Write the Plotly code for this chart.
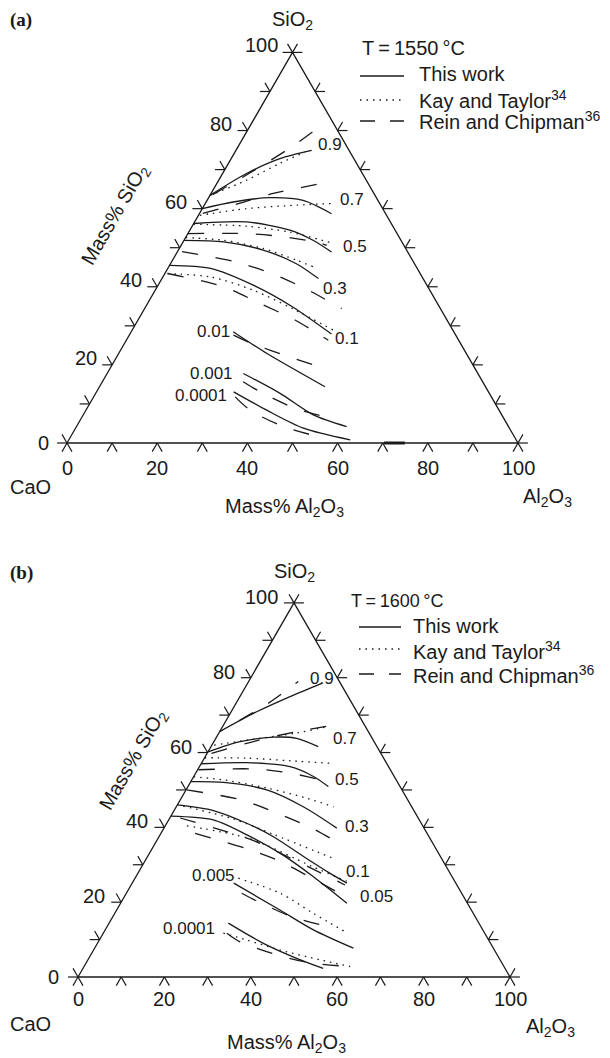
import math
import plotly.graph_objects as go

H = math.sqrt(3) / 2

# ---------------- ternary axis ticks (mass %) ----------------
tick_values = [0, 10, 20, 30, 40, 50, 60, 70, 80, 90, 100]
label_values = [0, 20, 40, 60, 80, 100]

# ---------------- Panel (a): T = 1550 C ----------------
# iso-activity curves; each point is (mass% Al2O3, mass% SiO2)
a_labels = ["0.9", "0.7", "0.5", "0.3", "0.1", "0.01", "0.001", "0.0001"]

a_tw_09 = [(0.0, 63.4), (5.3, 69.0), (10.8, 72.8), (16.8, 74.9)]
a_tw_07 = [(0.0, 60.0), (6.0, 61.7), (13.6, 62.8), (21.3, 62.1), (29.3, 58.7)]
a_tw_05 = [(0.0, 56.2), (11.5, 56.6), (22.2, 54.5), (28.6, 51.9), (34.2, 48.9)]
a_tw_03 = [(0.0, 51.9), (9.0, 51.5), (18.8, 49.4), (27.9, 45.9), (34.7, 42.1)]
a_tw_01 = [(0.0, 45.5), (9.5, 44.7), (21.1, 40.4), (32.5, 34.9), (44.7, 27.9)]
a_tw_001 = [(22.6, 28.5), (32.9, 22.9), (50.0, 14.4)]
a_tw_0001 = [(30.2, 17.8), (40.9, 12.7), (51.0, 7.2), (59.9, 4.2)]
a_tw_00001 = [(30.4, 13.1), (40.1, 8.4), (50.5, 3.8), (62.4, 0.8)]
a_tw_base = [(70.3, 0.0), (74.9, 0.0)]

a_kt_09 = [(0.0, 63.4), (6.2, 67.3), (11.4, 71.6), (15.5, 74.5)]
a_kt_07 = [(0.3, 58.3), (9.8, 60.0), (20.5, 60.9), (28.0, 61.3)]
a_kt_05 = [(0.0, 56.0), (12.1, 55.5), (22.4, 54.0), (33.5, 51.1)]
a_kt_03 = [(0.0, 52.6), (8.7, 51.9), (18.6, 49.8), (27.5, 46.8), (32.1, 45.1)]
a_kt_01 = [(0.6, 43.4), (10.6, 42.5), (21.8, 39.1), (32.8, 34.4), (44.6, 28.9)]

a_rc_09 = [(0.5, 63.6), (5.0, 68.1), (11.9, 75.8), (14.7, 79.8)]
a_rc_07 = [(0.7, 58.8), (7.7, 61.4), (13.8, 63.9), (23.9, 66.6)]
a_rc_05 = [(0.0, 53.6), (13.0, 53.6), (21.6, 52.8), (30.5, 51.2), (32.3, 50.6)]
a_rc_03 = [(1.0, 49.0), (14.1, 46.4), (23.7, 43.4), (34.0, 39.1), (43.7, 34.4)]
a_rc_01 = [(0.6, 43.4), (14.7, 40.0), (25.0, 35.7), (34.8, 31.5), (44.8, 26.3)]
a_rc_001 = [(23.1, 27.6), (28.2, 25.5), (38.1, 22.1), (47.7, 19.1)]
a_rc_0001 = [(31.2, 15.7), (36.3, 13.1), (46.1, 8.9), (55.4, 6.3)]
a_rc_00001 = [(31.4, 11.8), (36.4, 8.4), (45.9, 4.2), (55.4, 1.5)]

# ---------------- Panel (b): T = 1600 C ----------------
b_labels = ["0.9", "0.7", "0.5", "0.3", "0.1", "0.05", "0.005", "0.0001"]

b_tw_09 = [(0.0, 65.6), (5.9, 70.9), (11.5, 74.9), (17.2, 78.5)]
b_tw_07 = [(0.0, 60.2), (6.1, 62.9), (13.2, 64.1), (18.7, 63.8), (24.8, 61.6)]
b_tw_05 = [(0.0, 57.0), (10.4, 57.3), (21.0, 56.2), (27.7, 53.6), (32.5, 50.9)]
b_tw_03 = [(0.0, 52.2), (7.7, 52.0), (18.7, 50.0), (29.4, 45.5), (40.0, 39.8)]
b_tw_01 = [(0.0, 46.0), (9.1, 44.5), (18.5, 41.1), (26.5, 37.5), (36.1, 32.2), (44.5, 27.7), (49.7, 25.1)]
b_tw_005 = [(0.0, 43.0), (10.3, 42.0), (20.1, 38.0), (30.2, 33.1), (41.1, 26.8), (52.4, 19.7)]
b_tw_0005 = [(23.5, 25.1), (37.8, 17.9), (48.2, 12.6), (59.9, 7.7)]
b_tw_00001 = [(27.6, 14.4), (38.4, 9.0), (48.1, 5.0), (55.6, 2.3)]

b_kt_07 = [(0.5, 62.0), (10.2, 63.8), (18.0, 65.2), (24.2, 66.9)]
b_kt_05 = [(0.0, 58.6), (9.8, 58.5), (20.2, 57.8), (30.2, 57.1)]
b_kt_03 = [(0.0, 53.5), (7.3, 52.7), (18.5, 50.5), (29.0, 47.8), (36.4, 45.5)]
b_kt_01 = [(1.5, 45.7), (15.0, 42.2), (26.0, 38.2), (42.7, 31.9)]
b_kt_005 = [(5.0, 40.4), (21.2, 37.0), (39.3, 29.6), (49.4, 25.6)]
b_kt_0005 = [(23.9, 26.4), (35.6, 22.4), (46.0, 17.0), (55.8, 12.1)]
b_kt_00001 = [(27.8, 11.7), (34.1, 9.9), (43.2, 7.2), (53.7, 4.6), (61.6, 2.8)]

b_rc_09 = [(3.0, 68.5), (7.5, 73.2), (11.5, 79.0)]
b_rc_07 = [(1.0, 59.8), (10.4, 63.4), (17.8, 65.6), (24.4, 67.1)]
b_rc_05 = [(0.2, 55.4), (13.2, 55.6), (21.9, 54.5), (31.8, 52.2)]
b_rc_03 = [(0.2, 50.0), (14.3, 47.3), (24.1, 43.8), (34.2, 39.8), (44.4, 34.8)]
b_rc_01 = [(2.4, 42.5), (22.6, 36.4), (32.3, 32.2), (42.1, 27.9), (49.5, 24.6)]
b_rc_005 = [(7.9, 38.4), (21.9, 34.3), (30.4, 31.3), (42.0, 25.9), (51.1, 21.5)]
b_rc_0005 = [(26.7, 22.4), (31.7, 20.1), (41.5, 16.1), (51.2, 13.5)]
b_rc_00001 = [(28.6, 11.7), (32.8, 9.4), (43.1, 5.9), (52.3, 3.7), (61.6, 2.8)]

series_names = ["This work", "Kay and Taylor<sup>34</sup>", "Rein and Chipman<sup>36</sup>"]
panel_titles = ["T\u2009=\u20091550\u2009°C", "T\u2009=\u20091600\u2009°C"]

# ====================== drawing ======================
FONT = "Liberation Sans, Arial, Helvetica, sans-serif"
BLACK = "#1a1a1a"
STYLES = ["solid", "1.5px,5px", "16px,18px"]
KEY_STYLES = ["solid", "1.5px,5px", "15px,15px"]
W, HT = 610, 1058


def tern(points):
    """(Al2O3, SiO2) mass% -> cartesian position in an equilateral triangle of side 100."""
    xs = [al + si / 2 for al, si in points]
    ys = [si * H for al, si in points]
    return xs, ys


def tick_path(L):
    xs, ys = [], []

    def seg(p, d):
        xs.extend([p[0], p[0] + L * d[0], None])
        ys.extend([p[1], p[1] + L * d[1], None])

    for v in tick_values:
        p = (v / 2, v * H)             # SiO2 axis (left side)
        seg(p, (-1, 0)); seg(p, (-0.5, H))
        p = (v, 0)                     # Al2O3 axis (base)
        seg(p, (-0.5, -H)); seg(p, (0.5, -H))
        p = (100 - v / 2, v * H)       # CaO side (right side)
        seg(p, (1, 0)); seg(p, (0.5, H))
    return xs, ys


def paper(px, py):
    return px / W, 1 - py / HT


fig = go.Figure()

panels = [
    dict(xa="x", ya="y", tick=2.2,
         series=[[a_tw_09, a_tw_07, a_tw_05, a_tw_03, a_tw_01, a_tw_001, a_tw_0001, a_tw_00001],
                 [a_kt_09, a_kt_07, a_kt_05, a_kt_03, a_kt_01],
                 [a_rc_09, a_rc_07, a_rc_05, a_rc_03, a_rc_01, a_rc_001, a_rc_0001, a_rc_00001]],
         extra=[a_tw_base],
         labels=a_labels,
         label_xy=[(58.3, 66.1), (63.2, 53.9), (63.9, 43.5), (59.4, 34.3), (62.0, 23.2),
                   (32.4, 24.7), (32.1, 15.5), (29.6, 10.6)],
         lshift=(-13, 7), zshift=(-16, 0), bshift=-25,
         vshift=dict(si=(0, 32), ca=(-37, -44), al=(29, -54)),
         key=dict(title=(360, 48, 20), x0=360, x1=404, tx=417, ys=[76, 100, 121], ty=[74, 99, 121])),
    dict(xa="x2", ya="y2", tick=2.3,
         series=[[b_tw_09, b_tw_07, b_tw_05, b_tw_03, b_tw_01, b_tw_005, b_tw_0005, b_tw_00001],
                 [b_kt_07, b_kt_05, b_kt_03, b_kt_01, b_kt_005, b_kt_0005, b_kt_00001],
                 [b_rc_09, b_rc_07, b_rc_05, b_rc_03, b_rc_01, b_rc_005, b_rc_0005, b_rc_00001]],
         extra=[],
         labels=b_labels,
         label_xy=[(56.5, 69.2), (61.8, 55.3), (62.2, 45.8), (64.5, 34.8), (64.9, 24.4),
                   (69.1, 18.6), (31.3, 23.6), (25.7, 11.3)],
         lshift=(-14, 6), zshift=(-17, 0), bshift=-22,
         vshift=dict(si=(0, 30), ca=(-48, -47), al=(40, -50)),
         key=dict(title=(349, 601, 18), x0=359, x1=401, tx=411, ys=[627, 649, 674], ty=[626, 650, 674])),
]

annotations = []
shapes = []
for pi, P in enumerate(panels):
    xa, ya = P["xa"], P["ya"]
    # triangle frame
    vx, vy = tern([(0, 0), (100, 0), (0, 100), (0, 0)])
    fig.add_trace(go.Scatter(x=vx, y=vy, mode="lines", xaxis=xa, yaxis=ya,
                             line=dict(color=BLACK, width=1.3), showlegend=False,
                             hoverinfo="skip"))
    tx, ty = tick_path(P["tick"])
    fig.add_trace(go.Scatter(x=tx, y=ty, mode="lines", xaxis=xa, yaxis=ya,
                             line=dict(color=BLACK, width=1.2), showlegend=False,
                             hoverinfo="skip"))
    # curves
    for curves, dash, name in zip(P["series"], STYLES, series_names):
        for c in curves:
            cx, cy = tern(c)
            fig.add_trace(go.Scatter(
                x=cx, y=cy, mode="lines", xaxis=xa, yaxis=ya, name=name,
                line=dict(color=BLACK, width=1.3, dash=dash, shape="spline", smoothing=0.8),
                showlegend=False))
    for c in P["extra"]:
        cx, cy = tern(c)
        fig.add_trace(go.Scatter(x=cx, y=cy, mode="lines", xaxis=xa, yaxis=ya,
                                 line=dict(color=BLACK, width=3), showlegend=False))
    # curve labels
    for t, (lx, ly) in zip(P["labels"], P["label_xy"]):
        annotations.append(dict(x=lx, y=ly, xref=xa, yref=ya, text=t, showarrow=False,
                                font=dict(size=17, color=BLACK)))
    # SiO2 tick labels (left side)
    for v in label_values:
        sx, sy = P["zshift"] if v == 0 else P["lshift"]
        annotations.append(dict(x=v / 2, y=v * H, xref=xa, yref=ya, text=str(v),
                                showarrow=False, xanchor="right", yanchor="middle",
                                xshift=sx, yshift=sy, font=dict(size=20, color=BLACK)))
    # Al2O3 tick labels (base)
    for v in label_values:
        annotations.append(dict(x=v, y=0, xref=xa, yref=ya, text=str(v), showarrow=False,
                                xanchor="center", yanchor="middle", yshift=P["bshift"],
                                font=dict(size=20, color=BLACK)))
    # vertex names
    vs = P["vshift"]
    for txt, (px, py), key in [("SiO<sub>2</sub>", (50, 100 * H), "si"),
                               ("CaO", (0, 0), "ca"),
                               ("Al<sub>2</sub>O<sub>3</sub>", (100, 0), "al")]:
        annotations.append(dict(x=px, y=py, xref=xa, yref=ya, text=txt, showarrow=False,
                                xanchor="center", yanchor="middle",
                                xshift=vs[key][0], yshift=vs[key][1],
                                font=dict(size=20, color=BLACK)))
    # key (legend) block
    K = P["key"]
    tx0, ty0, tsz = K["title"]
    x, y = paper(tx0, ty0)
    annotations.append(dict(x=x, y=y, xref="paper", yref="paper", text=panel_titles[pi],
                            showarrow=False, xanchor="left", yanchor="middle",
                            font=dict(size=tsz, color=BLACK)))
    for name, dash, ly, tyy in zip(series_names, KEY_STYLES, K["ys"], K["ty"]):
        x0, y0 = paper(K["x0"], ly)
        x1, _ = paper(K["x1"], ly)
        shapes.append(dict(type="line", xref="paper", yref="paper", x0=x0, x1=x1, y0=y0, y1=y0,
                           line=dict(color=BLACK, width=1.3, dash=dash)))
        x, y = paper(K["tx"], tyy)
        annotations.append(dict(x=x, y=y, xref="paper", yref="paper", text=name,
                                showarrow=False, xanchor="left", yanchor="middle",
                                font=dict(size=20, color=BLACK)))

for txt, (px, py), ang in [("Mass% SiO<sub>2</sub>", (115, 215), -60),
                           ("Mass% SiO<sub>2</sub>", (133, 760), -60),
                           ("Mass% Al<sub>2</sub>O<sub>3</sub>", (284, 508), 0),
                           ("Mass% Al<sub>2</sub>O<sub>3</sub>", (286, 1043), 0)]:
    x, y = paper(px, py)
    annotations.append(dict(x=x, y=y, xref="paper", yref="paper", text=txt, showarrow=False,
                            textangle=ang, xanchor="center", yanchor="middle",
                            font=dict(size=20, color=BLACK)))
for txt, (px, py) in [("<b>(a)</b>", (21, 20)), ("<b>(b)</b>", (21, 573))]:
    x, y = paper(px, py)
    annotations.append(dict(x=x, y=y, xref="paper", yref="paper", text=txt, showarrow=False,
                            xanchor="center", yanchor="middle",
                            font=dict(size=19, color=BLACK, family="Liberation Serif, Times New Roman, serif")))

ax_common = dict(visible=False, showgrid=False, zeroline=False, fixedrange=True)
fig.update_layout(
    width=W, height=HT,
    margin=dict(l=0, r=0, t=0, b=0),
    paper_bgcolor="white", plot_bgcolor="white",
    font=dict(family=FONT, color=BLACK, size=20),
    xaxis=dict(domain=[0, 1], range=[-67 / 4.51, (W - 67) / 4.51], anchor="y", **ax_common),
    yaxis=dict(domain=[0.5, 1], range=[(443 - 529) / 4.51, 443 / 4.51], anchor="x", **ax_common),
    xaxis2=dict(domain=[0, 1], range=[-78 / 4.32, (W - 78) / 4.32], anchor="y2", **ax_common),
    yaxis2=dict(domain=[0, 0.5], range=[(977 - 1058) / 4.32, (977 - 529) / 4.32], anchor="x2", **ax_common),
    annotations=annotations,
    shapes=shapes,
    showlegend=False,
)

fig.write_html("out.html")
